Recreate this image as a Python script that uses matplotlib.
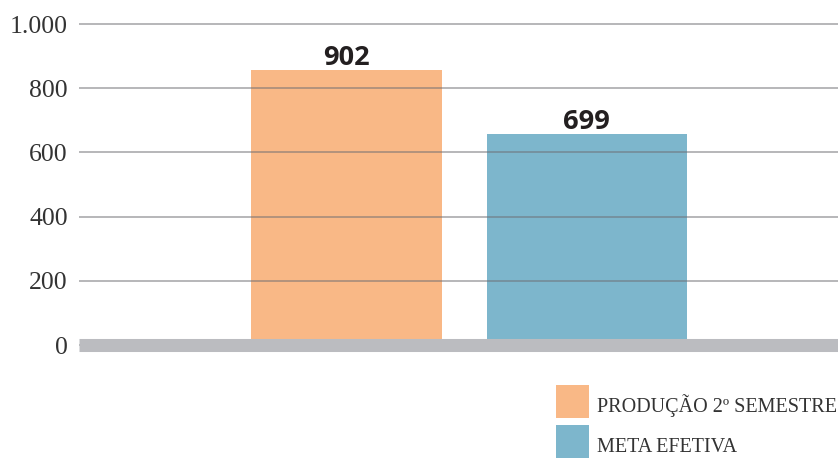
import matplotlib
matplotlib.use("Agg")
import matplotlib.pyplot as plt
from matplotlib.patches import Rectangle

# -------------------------------
# Data
# -------------------------------
categories = ["PRODUÇÃO 2º SEMESTRE", "META EFETIVA"]
bar_heights = [857, 658]        # bar tops as drawn against the axis
value_labels = ["902", "699"]   # numbers printed above the bars
y_ticks = [0, 200, 400, 600, 800, 1000]
y_tick_labels = ["0", "200", "400", "600", "800", "1.000"]

# styles
colors = ["#f9b886", "#7db6cc"]
bar_widths = [0.795, 0.83]
positions = [0, 1]

W, H = 840, 459
fig = plt.figure(figsize=(W / 100, H / 100), dpi=100)
ax = fig.add_axes([79 / W, 1 - 352.5 / H, 759 / W, 342.5 / H])

bars = ax.bar(positions, bar_heights, width=bar_widths, color=colors, zorder=1)

for x, h, lbl in zip(positions, bar_heights, value_labels):
    ax.annotate(lbl, (x, h), xytext=(0, 3.5), textcoords="offset points",
                ha="center", va="baseline", fontsize=19.5, fontweight="bold",
                family="Open Sans", color="#231f20")

# gray base band at zero
ax.axhline(0, color="#bbbcc0", lw=9.4, zorder=3, solid_capstyle="butt")

ax.set_xlim(-1.112, 2.044)
ax.set_ylim(-22.6, 1043.6)
ax.set_yticks(y_ticks)
ax.set_yticklabels(y_tick_labels, family="Liberation Serif")
ax.set_xticks([])
ax.yaxis.grid(True, color="#6e6e73", alpha=0.5, lw=1.4)
ax.set_axisbelow(False)
ax.tick_params(axis="y", length=0, pad=8, labelsize=18.5, labelcolor="#333333")
for s in ax.spines.values():
    s.set_visible(False)

# legend: square swatch with label sitting on its bottom edge
for i, (name, c) in enumerate(zip(categories, colors)):
    top = 385 + 40 * i
    fig.add_artist(Rectangle((556 / W, 1 - (top + 33) / H), 33 / W, 33 / H,
                             transform=fig.transFigure, color=c, lw=0))
    fig.text(597 / W, 1 - (top + 27) / H, name, ha="left", va="baseline",
             family="Liberation Serif", fontsize=14.5, color="#333333")

fig.savefig("out.png", dpi=100)
